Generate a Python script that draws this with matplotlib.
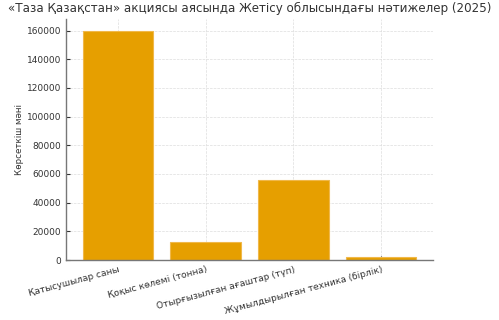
import matplotlib
matplotlib.use('Agg')
import matplotlib.pyplot as plt

categories = [
    'Қатысушылар саны',
    'Қоқыс көлемі (тонна)',
    'Отырғызылған ағаштар (түп)',
    'Жұмылдырылған техника (бірлік)',
]
values = [160000, 12500, 56000, 2000]

TITLE = '«Таза Қазақстан» акциясы аясында Жетісу облысындағы нәтижелер (2025)'
YLABEL = 'Көрсеткіш мәні'

fig = plt.figure(figsize=(4.99, 3.2), dpi=100)
ax = fig.add_axes([0.132, 0.1875, 0.736, 0.753])

ax.bar(categories, values, width=0.8, color='#E69F00', edgecolor='#F0B84A', linewidth=0.8, zorder=2)
ax.set_title(TITLE, fontsize=8.6, color='#333333', pad=5)
ax.set_ylabel(YLABEL, fontsize=6.3, color='#333333', labelpad=1.5)

ax.grid(True, linestyle='--', linewidth=0.5, color='#dddddd', zorder=0)
for side in ('top', 'right'):
    ax.spines[side].set_visible(False)
for side in ('left', 'bottom'):
    ax.spines[side].set_color('#777777')
    ax.spines[side].set_linewidth(1.0)

ax.tick_params(axis='both', direction='in', length=3, colors='#333333', labelsize=6.5)
plt.setp(ax.get_xticklabels(), rotation=15, ha='right', rotation_mode='anchor')

fig.savefig('out.png', dpi=100)
